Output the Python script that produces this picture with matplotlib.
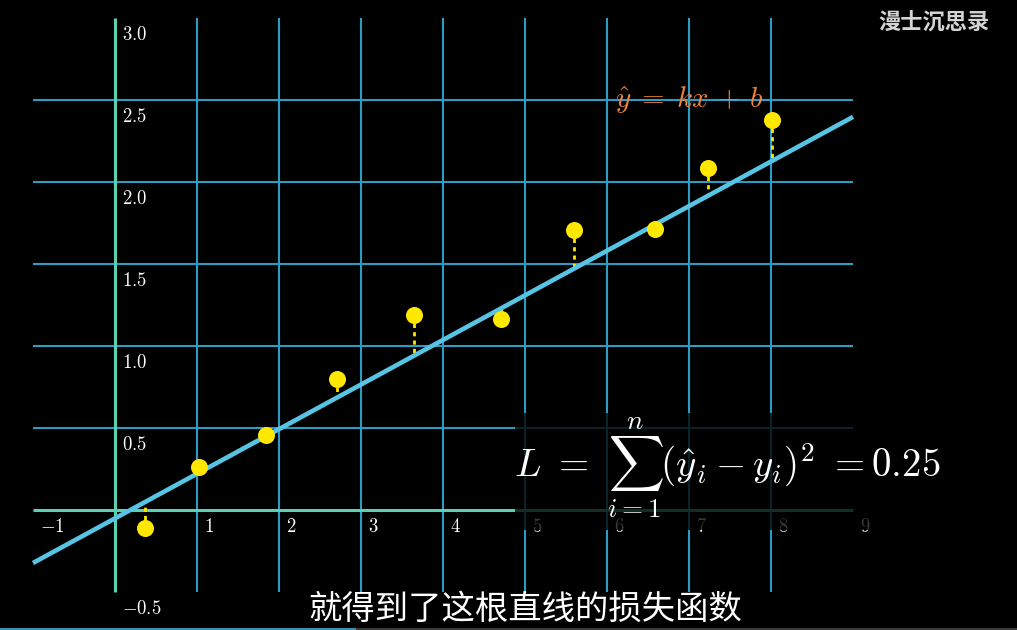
import matplotlib
matplotlib.use("Agg")
import matplotlib.pyplot as plt
import numpy as np
from matplotlib.patches import Rectangle

plt.rcParams['mathtext.fontset'] = 'cm'

# ---- data ----
x_pts = [0.37, 1.02, 1.84, 2.71, 3.65, 4.71, 5.60, 6.59, 7.23, 8.01]
y_pts = [-0.11, 0.26, 0.46, 0.80, 1.19, 1.165, 1.71, 1.715, 2.085, 2.38]
k = 0.272
b = -0.051
x_ticks = [-1, 1, 2, 3, 4, 5, 6, 7, 8, 9]
y_ticks = [-0.5, 0.5, 1.0, 1.5, 2.0, 2.5, 3.0]
x_range = (-1, 9)
y_range = (-0.5, 3.0)
loss_value = "0.25"
subtitle = "就得到了这根直线的损失函数"
watermark = "漫士沉思录"

W, H = 1017, 630
fig = plt.figure(figsize=(W / 100, H / 100), dpi=100, facecolor='black')
ax = fig.add_axes([0, 0, 1, 1])
ax.set_facecolor('black')
# pixel mapping: x=0 at 115px, 82 px/unit; y=0 at 510px, 164 px/unit
ax.set_xlim(-115 / 82, (W - 115) / 82)
ax.set_ylim((510 - H) / 164, 510 / 164)
ax.axis('off')

grid_c = '#2d9cc2'
axis_c = '#5cd0b3'

# background grid lines
for xv in np.arange(x_range[0] + 1, x_range[1]):
    if xv == 0:
        continue
    ax.plot([xv, xv], [y_range[0], y_range[1]], color=grid_c, lw=1.5, zorder=1,
            solid_capstyle='butt')
for yv in np.arange(y_range[0] + 1, y_range[1], 0.5):
    if abs(yv) < 1e-9:
        continue
    ax.plot([x_range[0], x_range[1]], [yv, yv], color=grid_c, lw=1.5, zorder=1,
            solid_capstyle='butt')

# axes
ax.plot([x_range[0], x_range[1]], [0, 0], color=axis_c, lw=2.2, zorder=2,
        solid_capstyle='butt')
ax.plot([0, 0], [y_range[0], y_range[1]], color=axis_c, lw=2.2, zorder=2,
        solid_capstyle='butt')

# tick labels
for xv in x_ticks:
    lab = r'$-%d$' % abs(xv) if xv < 0 else r'$%d$' % xv
    ax.text(xv + 0.09, -0.1, lab, color='white', fontsize=13.5,
            ha='left', va='center', zorder=3)
for yv in y_ticks:
    lab = r'$-%.1f$' % abs(yv) if yv < 0 else r'$%.1f$' % yv
    ax.text(0.09, yv - 0.1, lab, color='white', fontsize=13.5,
            ha='left', va='center', zorder=3)

# fit line
xl = np.array([x_range[0], x_range[1]])
ax.plot(xl, k * xl + b, color='#58c4e4', lw=3.3, zorder=4, solid_capstyle='butt')

# residuals
for xp, yp in zip(x_pts, y_pts):
    ax.plot([xp, xp], [yp, k * xp + b], color='#ffe800', lw=2.0,
            linestyle=(0, (1.5, 1.5)), zorder=3)

# points
ax.scatter(x_pts, y_pts, s=150, color='#ffe800', zorder=5, linewidths=0)

# formula label
ax.text((689 - 115) / 82, 2.5, r'$\hat{y}\;=\;kx\,+\,b$', color='#f0843c', fontsize=21,
        ha='center', va='center', zorder=6)

# loss formula with background
ax.add_patch(Rectangle(((515 - 115) / 82, (510 - 530) / 164), 430 / 82, 117 / 164,
                       facecolor='black', alpha=0.78, edgecolor='none', zorder=6))
ax.text((727 - 115) / 82, (510 - 468) / 164,
        r'$L\ =\ \sum_{i=1}^{n}(\hat{y}_i - y_i)^2\ = 0.25$',
        color='white', fontsize=28, ha='center', va='center', zorder=7)

# subtitle
fig.text(525 / W, 1 - 609 / H, subtitle, color='white', fontsize=24,
         family=['Noto Sans CJK SC', 'DejaVu Sans'], ha='center', va='center')

# watermark
fig.text(934 / W, 1 - 22 / H, watermark, color='#d4d4d4', fontsize=16,
         fontweight='bold', family=['Noto Sans CJK SC', 'DejaVu Sans'],
         ha='center', va='center')

# progress bar
fig.add_artist(plt.Line2D([0, 357 / W], [1 / H, 1 / H], color='#3a8fb5', lw=1.5))
fig.add_artist(plt.Line2D([357 / W, 1], [1 / H, 1 / H], color='#3a3a3a', lw=1.5))

fig.savefig('out.png', dpi=100, facecolor='black')
